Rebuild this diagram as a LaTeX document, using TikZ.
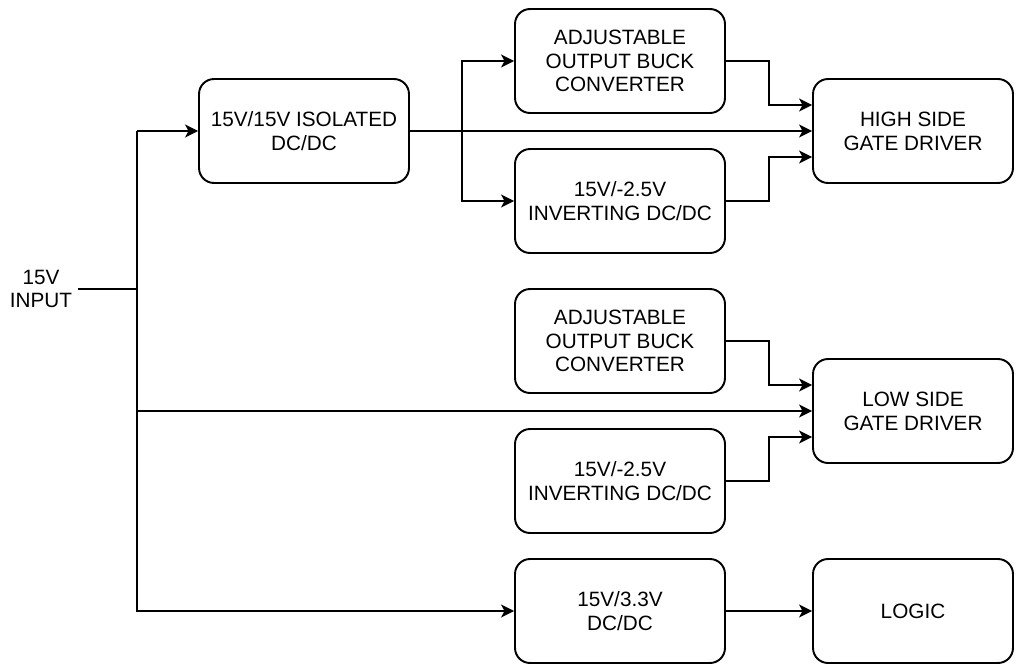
\documentclass[tikz,border=0pt]{standalone}
\usepackage{fontspec}
\setmainfont{Liberation Sans}
\usetikzlibrary{calc,arrows.meta}

\begin{document}
\begin{tikzpicture}[x=0.02cm,y=-0.02cm]
\tikzset{block/.style = {shape=rectangle,draw,rounded corners=0.3cm,line width=1.1pt,
  minimum width=4.2cm,minimum height=2.08cm,align=center,font=\fontsize{11.8}{13.5}\selectfont}}
\tikzset{driver/.style = {block,minimum width=4cm}}
\tikzset{edge/.style = {-{Stealth[length=0.26cm,width=0.26cm,inset=0.07cm]},line width=1.1pt}}
\useasboundingbox (0,0) rectangle (1019,664);
% input and branches
\node[align=center,font=\fontsize{11.8}{13.5}\selectfont] (in) at (41,289) {15V\\INPUT};
\node[block] (iso) at (304,131) {15V/15V ISOLATED\\DC/DC};
\node[block] (buckA) at (620,61) {ADJUSTABLE\\OUTPUT BUCK\\CONVERTER};
\node[block] (invA) at (620,201) {15V/-2.5V\\INVERTING DC/DC};
\node[driver] (high) at (913,131) {HIGH SIDE\\GATE DRIVER};
\node[block] (buckB) at (620,341) {ADJUSTABLE\\OUTPUT BUCK\\CONVERTER};
\node[block] (invB) at (620,481) {15V/-2.5V\\INVERTING DC/DC};
\node[driver] (low) at (913,411) {LOW SIDE\\GATE DRIVER};
\node[block] (ldo) at (620,611) {15V/3.3V\\DC/DC};
\node[driver] (logic) at (913,611) {LOGIC};
\coordinate (split) at (137,131);
\coordinate (fork) at (462,131);
\draw[line width=1.1pt] (in) -- (in -| split);
\draw[edge] (split) -- (iso);
\draw[edge] (split) |- (ldo);
\draw[edge] (split |- low) -- (low);
\draw[edge] (iso) -- (high);
\draw[edge] (fork) |- (buckA);
\draw[edge] (fork) |- (invA);
\draw[edge] (buckA.east) -- ++(43,0) |- ($(high.west)+(0,-26)$);
\draw[edge] (invA.east) -- ++(43,0) |- ($(high.west)+(0,26)$);
\draw[edge] (buckB.east) -- ++(43,0) |- ($(low.west)+(0,-26)$);
\draw[edge] (invB.east) -- ++(43,0) |- ($(low.west)+(0,26)$);
\draw[edge] (ldo) -- (logic);
\end{tikzpicture}
\end{document}
